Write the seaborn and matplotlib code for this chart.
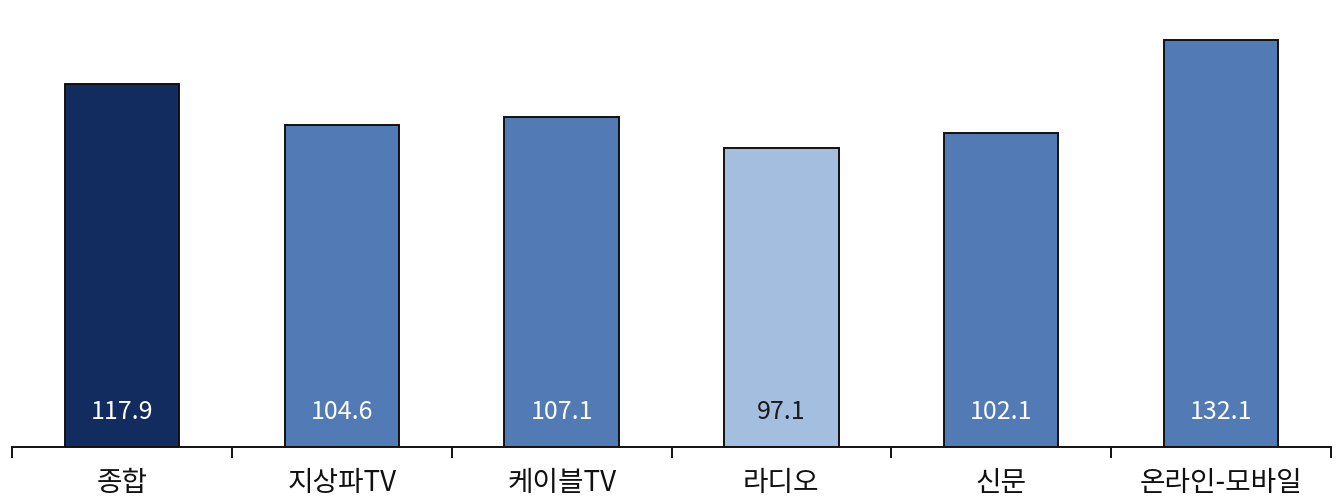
import seaborn as sns
import matplotlib.pyplot as plt
import pandas as pd

sns.set_style("white")
plt.rcParams["font.family"] = ["Noto Sans CJK KR", "DejaVu Sans"]
plt.rcParams["axes.unicode_minus"] = False

# 데이터
categories = ["종합", "지상파TV", "케이블TV", "라디오", "신문", "온라인-모바일"]
values = [117.9, 104.6, 107.1, 97.1, 102.1, 132.1]
bar_colors = ["#132C60", "#527AB4", "#527AB4", "#A4BEE0", "#527AB4", "#527AB4"]
label_colors = ["white", "white", "white", "#1a1a1a", "white", "white"]

df = pd.DataFrame({"cat": categories, "val": values})

fig = plt.figure(figsize=(13.39, 5.03), dpi=100)
ax = fig.add_axes([0.009, 0.1113, 0.985, 0.8887])

sns.barplot(data=df, x="cat", y="val", hue="cat", palette=bar_colors,
            width=0.52, edgecolor="#111111", linewidth=1.4,
            saturation=1.0, legend=False, ax=ax)

# 막대 안쪽 값 표시
for i, (v, c) in enumerate(zip(values, label_colors)):
    ax.text(i, 11.4, f"{v:.1f}", ha="center", va="center", fontsize=18,
            color=c)

ax.set_xlim(-0.5, len(categories) - 0.5)
ax.set_ylim(0, 145.2)
for s in ["top", "right", "left"]:
    ax.spines[s].set_visible(False)
ax.spines["bottom"].set_color("#111111")
ax.spines["bottom"].set_linewidth(1.4)
ax.set_yticks([])
ax.set_xlabel("")
ax.set_ylabel("")

# 카테고리 경계 눈금
ax.set_xticks([i - 0.5 for i in range(len(categories) + 1)], minor=True)
ax.tick_params(axis="x", which="minor", bottom=True, length=8, width=1.4,
               color="#111111", direction="out")
ax.tick_params(axis="x", which="major", bottom=False, length=0, pad=15,
               labelsize=20, labelcolor="#111111")

plt.savefig("out.png", dpi=100)
